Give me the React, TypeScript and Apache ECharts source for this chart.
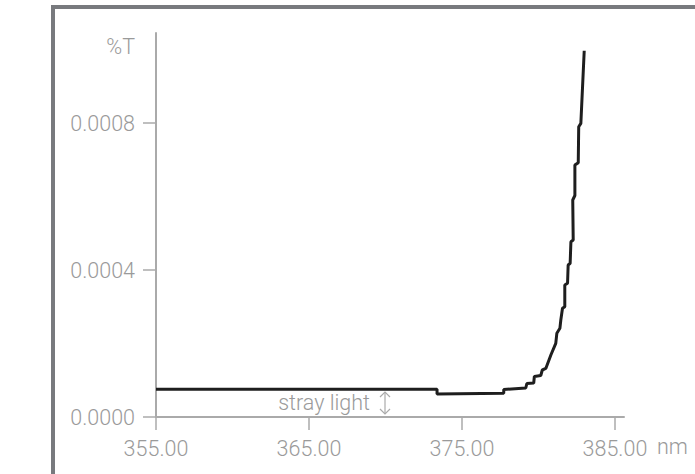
import React, { useEffect, useRef } from "react";
import * as echarts from "echarts";

const wavelength = [355.0, 373.37, 373.37, 377.73, 377.73, 379.17, 379.24, 379.69, 379.73, 380.15, 380.25, 380.48, 380.81, 381.13, 381.2, 381.4, 381.46, 381.57, 381.72, 381.72, 381.9, 381.94, 382.07, 382.12, 382.27, 382.24, 382.38, 382.38, 382.6, 382.63, 382.77, 382.99];
const transmittance = [0.0000754, 0.0000754, 0.0000626, 0.0000645, 0.0000748, 0.0000789, 0.0000912, 0.0000925, 0.0001102, 0.0001129, 0.0001279, 0.000132, 0.0001687, 0.0002005, 0.0002278, 0.0002414, 0.000264, 0.0002958, 0.0003001, 0.0003592, 0.0003638, 0.0004136, 0.0004182, 0.000477, 0.0004816, 0.0005905, 0.0006028, 0.0006857, 0.000692, 0.00079, 0.0007992, 0.0009968];
const xTicks = [355, 365, 375, 385];
const yTicks = [0, 0.0004, 0.0008];
const xUnit = "nm";
const yUnit = "%T";
const annotation = "stray light";

const FONT = "Roboto";
const GRAY = "#9a9a9a";
const AXIS = "#aaaaaa";
const FS = 21.5;

export default function App() {
  const ref = useRef<HTMLDivElement>(null);
  useEffect(() => {
    const chart = echarts.init(ref.current!, null, { renderer: "svg" });
    const data = wavelength.map((w, i) => [w, transmittance[i]]);
    chart.setOption({
      animation: false,
      backgroundColor: "#ffffff",
      grid: { left: 156, top: 33, right: 71, bottom: 57, containLabel: false },
      xAxis: {
        type: "value",
        min: 355,
        max: 385.59,
        axisLine: { show: true, lineStyle: { color: AXIS, width: 2 } },
        axisTick: { show: true, customValues: xTicks, length: 13, lineStyle: { color: AXIS, width: 1.5 } },
        axisLabel: {
          customValues: xTicks,
          formatter: (v: number) => v.toFixed(2),
          margin: 20,
          color: GRAY,
          fontFamily: FONT,
          fontWeight: 300,
          fontSize: FS,
        },
        splitLine: { show: false },
      },
      yAxis: {
        type: "value",
        min: 0,
        max: 0.001045,
        axisLine: { show: true, lineStyle: { color: AXIS, width: 2 } },
        axisTick: { show: true, customValues: yTicks, length: 13, lineStyle: { color: AXIS, width: 1.5 } },
        axisLabel: {
          customValues: yTicks,
          formatter: (v: number) => v.toFixed(4),
          margin: 21,
          color: GRAY,
          fontFamily: FONT,
          fontWeight: 300,
          fontSize: FS,
        },
        splitLine: { show: false },
      },
      series: [
        {
          type: "line",
          data,
          showSymbol: false,
          symbol: "none",
          lineStyle: { color: "#1e1e1e", width: 3 },
          silent: true,
        },
      ],
      graphic: [
        {
          type: "rect",
          shape: { x: 53, y: 7, width: 720, height: 520 },
          style: { fill: "none", stroke: "#787a7e", lineWidth: 4 },
          silent: true,
        },
        {
          type: "text",
          x: 135,
          y: 46,
          style: { text: yUnit, fill: GRAY, font: `300 ${FS}px ${FONT}`, align: "right", verticalAlign: "middle" },
        },
        {
          type: "text",
          x: 657,
          y: 446,
          style: { text: xUnit, fill: GRAY, font: `300 ${FS}px ${FONT}`, align: "left", verticalAlign: "middle" },
        },
        {
          type: "text",
          x: 370,
          y: 402,
          style: { text: annotation, fill: GRAY, font: `300 ${FS}px ${FONT}`, align: "right", verticalAlign: "middle" },
        },
        {
          type: "line",
          shape: { x1: 385, y1: 392, x2: 385, y2: 414 },
          style: { stroke: AXIS, lineWidth: 1.2 },
        },
        {
          type: "polyline",
          shape: { points: [[380, 397], [385, 392], [390, 397]] },
          style: { stroke: AXIS, lineWidth: 1.2, fill: "none" },
        },
        {
          type: "polyline",
          shape: { points: [[380, 409], [385, 414], [390, 409]] },
          style: { stroke: AXIS, lineWidth: 1.2, fill: "none" },
        },
      ],
    });
    return () => chart.dispose();
  }, []);
  return (
    <div
      ref={ref}
      style={{ position: "absolute", left: 0, top: 0, width: 695, height: 474 }}
    />
  );
}
